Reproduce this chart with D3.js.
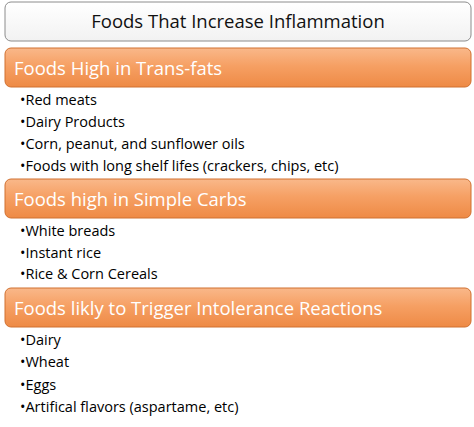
<!DOCTYPE html><html><head><meta charset="utf-8">
<script src="https://cdn.jsdelivr.net/npm/d3@7"></script>
<style>body{margin:0;background:#fff}</style></head><body>
<script>
const title = "Foods That Increase Inflammation";
const sections = ["Foods High in Trans-fats","Foods high in Simple Carbs","Foods likly to Trigger Intolerance Reactions"];
const items1 = ["Red meats","Dairy Products","Corn, peanut, and sunflower oils","Foods with long shelf lifes (crackers, chips, etc)"];
const items2 = ["White breads","Instant rice","Rice & Corn Cereals"];
const items3 = ["Dairy","Wheat","Eggs","Artifical flavors (aspartame, etc)"];
const groups = [items1, items2, items3];

const W=474,H=427;
const svg=d3.select("body").append("svg").attr("width",W).attr("height",H);
const defs=svg.append("defs");
const g=defs.append("linearGradient").attr("id","og").attr("x1",0).attr("y1",0).attr("x2",0).attr("y2",1);
g.append("stop").attr("offset","0%").attr("stop-color","#f9b88a");
g.append("stop").attr("offset","45%").attr("stop-color","#f6a064");
g.append("stop").attr("offset","100%").attr("stop-color","#ee8a45");
const tg=defs.append("linearGradient").attr("id","tg").attr("x1",0).attr("y1",0).attr("x2",0).attr("y2",1);
tg.append("stop").attr("offset","0%").attr("stop-color","#ffffff");
tg.append("stop").attr("offset","100%").attr("stop-color","#f2f2f2");
const font="'Open Sans', Calibri, sans-serif";

svg.append("rect").attr("x",5).attr("y",2).attr("width",466).attr("height",39).attr("rx",6)
 .attr("fill","url(#tg)").attr("stroke","#8c8c8c").attr("stroke-width",1);
svg.append("text").attr("x",238).attr("y",28).attr("text-anchor","middle").attr("font-family",font)
 .attr("font-size",18.5).attr("fill","#111").text(title);

const barY=[48,179,288];
const itemY=[[100,122,144,166],[231,253,274],[340,362,384,407]];
sections.forEach((s,i)=>{
  svg.append("rect").attr("x",5).attr("y",barY[i]).attr("width",466).attr("height",39).attr("rx",6)
   .attr("fill","url(#og)").attr("stroke","#d07030").attr("stroke-width",1);
  svg.append("text").attr("x",14).attr("y",barY[i]+27).attr("font-family",font).attr("font-size",18.5)
   .attr("fill","#fff").text(s);
  const y=d3.scalePoint().domain(groups[i]).range([itemY[i][0], itemY[i][groups[i].length-1]]);
  svg.selectAll(null).data(groups[i]).enter().append("text")
   .attr("x",20).attr("y",d=>y(d)+5).attr("font-family",font).attr("font-size",14.5).attr("fill","#000")
   .text(d=>"\u2022"+d);
});
</script></body></html>
